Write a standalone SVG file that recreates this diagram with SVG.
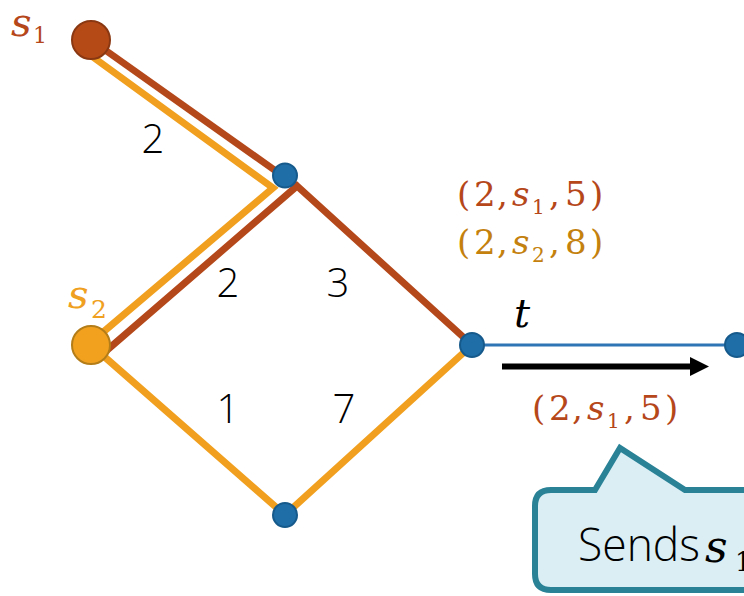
<svg xmlns="http://www.w3.org/2000/svg" width="744" height="596" viewBox="0 0 744 596">
<style>
.brown{stroke:#B5481A;stroke-width:7;fill:none;stroke-linejoin:miter}
.orange{stroke:#F0A01E;stroke-width:7;fill:none;stroke-linejoin:miter}
.vnode{fill:#1F6EA8;stroke:#165A8C;stroke-width:2}
.w{font-family:"Open Sans","Liberation Sans",sans-serif;font-weight:300;font-size:40px;fill:#000;text-anchor:middle}
.m{font-family:"DejaVu Serif","Liberation Serif",serif}
.mi{font-style:italic}
.tb{fill:#B5471A}
.to{fill:#C4810D}
</style>
<g id="connectors">
<path class="orange" d="M86,52 L273,188 L95,339"/>
<path class="brown" d="M91,40 L297,186"/>
<path class="brown" d="M106,351 L297,186 L472,345"/>
<path class="orange" d="M91,345 L285,515 L472,345"/>
<line x1="472" y1="345" x2="744" y2="345" stroke="#2E75B6" stroke-width="3"/>
<line x1="502" y1="366.5" x2="692" y2="366.5" stroke="#000" stroke-width="6"/>
<path d="M690,357 L709,366.5 L690,376 Z" fill="#000"/>
</g>
<g id="node-s1"><circle cx="91" cy="40" r="19" fill="#B64A17" stroke="#8A3812" stroke-width="2"/></g>
<g id="node-s2"><circle cx="91" cy="345" r="19" fill="#F2A11F" stroke="#B47D18" stroke-width="2"/></g>
<g id="node-a"><circle class="vnode" cx="285" cy="175.5" r="12"/></g>
<g id="node-b"><circle class="vnode" cx="285" cy="515" r="12"/></g>
<g id="node-t"><circle class="vnode" cx="472" cy="345" r="12"/></g>
<g id="node-r"><circle class="vnode" cx="737" cy="345" r="12"/></g>
<g id="labels">
<text x="11" y="36" class="m mi tb" font-size="40">s</text>
<text x="33" y="43" class="m tb" font-size="22">1</text>
<text x="68" y="308" class="m mi" fill="#F0A020" font-size="40">s</text>
<text x="91" y="318" class="m" fill="#F0A020" font-size="25">2</text>
<text x="153" y="153" class="w">2</text>
<text x="228" y="297" class="w">2</text>
<text x="338" y="297" class="w">3</text>
<text x="228" y="423" class="w">1</text>
<text x="344" y="423" class="w">7</text>
<g class="m tb" font-size="34">
<text x="457" y="206">(</text><text x="474" y="206">2</text><text x="497" y="206">,</text>
<text x="512" y="206" class="mi">s</text><text x="532" y="214" font-size="20">1</text>
<text x="549" y="206">,</text><text x="565" y="206">5</text><text x="590" y="206">)</text>
</g>
<g class="m to" font-size="34">
<text x="457" y="254">(</text><text x="474" y="254">2</text><text x="497" y="254">,</text>
<text x="512" y="254" class="mi">s</text><text x="532" y="262" font-size="20">2</text>
<text x="549" y="254">,</text><text x="565" y="254">8</text><text x="590" y="254">)</text>
</g>
<g class="m tb" font-size="34">
<text x="532" y="420">(</text><text x="549" y="420">2</text><text x="572" y="420">,</text>
<text x="587" y="420" class="mi">s</text><text x="607" y="428" font-size="20">1</text>
<text x="624" y="420">,</text><text x="640" y="420">5</text><text x="665" y="420">)</text>
</g>
<text x="514" y="327" class="m mi" font-size="40" fill="#000">t</text>
</g>
<g id="callout">
<path d="M551,490 L595,490 L620,448 L685,490 L800,490 L800,590 L551,590 Q535,590 535,574 L535,506 Q535,490 551,490 Z" fill="#DAEEF4" stroke="#2A8297" stroke-width="6"/>
<text x="578" y="561" font-family="Open Sans, Liberation Sans, sans-serif" font-weight="300" font-size="46" textLength="122" lengthAdjust="spacingAndGlyphs" fill="#000">Sends</text>
<text x="705" y="562" class="m mi" font-size="44" fill="#000">s</text>
<text x="735" y="571" class="m" font-size="26" fill="#000">1</text>
</g>
</svg>
